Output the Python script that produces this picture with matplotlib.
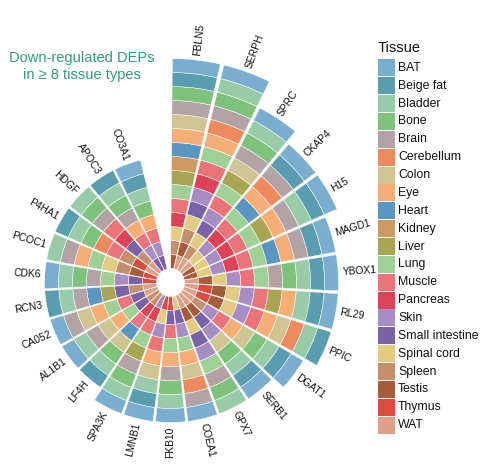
import numpy as np
import matplotlib
matplotlib.use("Agg")
import matplotlib.pyplot as plt
from matplotlib.patches import Rectangle

plt.rcParams['font.family'] = ['Liberation Sans', 'DejaVu Sans']

tissues = ["BAT", "Beige fat", "Bladder", "Bone", "Brain", "Cerebellum", "Colon",
           "Eye", "Heart", "Kidney", "Liver", "Lung", "Muscle", "Pancreas", "Skin",
           "Small intestine", "Spinal cord", "Spleen", "Testis", "Thymus", "WAT"]
tissue_colors = ["#7aaed1", "#5a9cb0", "#98cba7", "#7ec27c", "#b3a3a6", "#ee8a5e",
                 "#d0c592", "#f6ad76", "#5a96bf", "#cc9a62", "#a9a552", "#9fd197",
                 "#ea7479", "#dd4356", "#a78dc4", "#7a62a6", "#e4cb82", "#c58f6e",
                 "#a65c3a", "#dc4b40", "#dea088"]

genes = ["FBLN5", "SERPH", "SPRC", "CKAP4", "H15", "MAGD1", "YBOX1", "RL29", "PPIC",
         "DGAT1", "SERB1", "GPX7", "COEA1", "FKB10", "LMNB1", "SPA3K", "LF4H", "AL1B1",
         "CA052", "RCN3", "CDK6", "PCOC1", "P4HA1", "HDGF", "APOC3", "CO3A1"]

gene_tissues = [
    ["BAT", "Beige fat", "Bone", "Brain", "Colon", "Eye", "Heart", "Kidney", "Liver", "Lung", "Muscle", "Pancreas", "Spinal cord", "Spleen", "Testis"],
    ["BAT", "Bladder", "Bone", "Brain", "Cerebellum", "Eye", "Lung", "Muscle", "Pancreas", "Skin", "Small intestine", "Spinal cord", "Spleen", "Testis", "WAT"],
    ["BAT", "Bladder", "Bone", "Brain", "Colon", "Liver", "Lung", "Muscle", "Skin", "Small intestine", "Spinal cord", "Spleen", "WAT"],
    ["BAT", "Beige fat", "Brain", "Cerebellum", "Eye", "Heart", "Lung", "Muscle", "Pancreas", "Skin", "Spinal cord", "WAT"],
    ["BAT", "Beige fat", "Bladder", "Brain", "Eye", "Liver", "Lung", "Muscle", "Pancreas", "Skin", "Spinal cord", "Testis"],
    ["BAT", "Beige fat", "Brain", "Eye", "Heart", "Lung", "Muscle", "Pancreas", "Skin", "Spinal cord", "Testis"],
    ["BAT", "Beige fat", "Bladder", "Bone", "Brain", "Lung", "Muscle", "Skin", "Spinal cord", "Testis", "WAT"],
    ["BAT", "Beige fat", "Bladder", "Eye", "Liver", "Muscle", "Skin", "Spinal cord", "Testis", "Thymus", "WAT"],
    ["Beige fat", "Bladder", "Cerebellum", "Colon", "Eye", "Muscle", "Skin", "Spinal cord", "Testis", "Thymus", "WAT"],
    ["BAT", "Beige fat", "Bladder", "Bone", "Colon", "Eye", "Muscle", "Skin", "Spleen", "WAT"],
    ["BAT", "Beige fat", "Bladder", "Bone", "Colon", "Skin", "Small intestine", "Testis", "WAT"],
    ["Bladder", "Bone", "Brain", "Lung", "Skin", "Small intestine", "Spinal cord", "Testis", "WAT"],
    ["BAT", "Brain", "Cerebellum", "Colon", "Eye", "Lung", "Skin", "Small intestine", "Spinal cord"],
    ["BAT", "Bladder", "Bone", "Brain", "Eye", "Lung", "Muscle", "Small intestine", "Thymus"],
    ["BAT", "Beige fat", "Bladder", "Colon", "Eye", "Muscle", "Skin", "Spinal cord", "Thymus"],
    ["BAT", "Bladder", "Bone", "Brain", "Liver", "Lung", "Muscle", "Pancreas", "Skin"],
    ["Beige fat", "Bladder", "Bone", "Colon", "Heart", "Muscle", "Pancreas", "Spleen"],
    ["BAT", "Bladder", "Brain", "Colon", "Eye", "Lung", "Small intestine", "Spleen"],
    ["BAT", "Brain", "Colon", "Eye", "Lung", "Muscle", "Small intestine", "WAT"],
    ["Beige fat", "Bladder", "Brain", "Heart", "Liver", "Small intestine", "Spleen", "WAT"],
    ["BAT", "Bladder", "Bone", "Brain", "Lung", "Skin", "Small intestine", "Thymus"],
    ["Bladder", "Brain", "Eye", "Lung", "Spinal cord", "Spleen", "Testis", "Thymus"],
    ["Beige fat", "Bladder", "Bone", "Cerebellum", "Muscle", "Spleen", "Thymus", "WAT"],
    ["Bladder", "Bone", "Brain", "Muscle", "Pancreas", "Small intestine", "Spleen", "WAT"],
    ["Beige fat", "Bladder", "Bone", "Brain", "Eye", "Muscle", "Skin", "Small intestine"],
    ["BAT", "Beige fat", "Bladder", "Bone", "Eye", "Muscle", "Skin", "Small intestine"],
]

title_lines = ["Down-regulated DEPs", "in \u2265 8 tissue types"]
legend_title = "Tissue"

# ---- layout -------------------------------------------------------------
W, H = 495, 468
fig = plt.figure(figsize=(W / 100, H / 100), dpi=100)
cx, cy = 170.5, 282.5          # centre of the circle in pixels (from top-left)
unit = 14.0                     # pixels per tissue segment
rmax = 16.0
R = rmax * unit
ax = fig.add_axes([(cx - R) / W, (H - cy - R) / H, 2 * R / W, 2 * R / H],
                  projection='polar')
ax.set_theta_zero_location('N')
ax.set_theta_direction(-1)
ax.set_ylim(0, rmax)
ax.set_axis_off()

n_slots = len(genes) + 1
slot = 2 * np.pi / n_slots
color_of = dict(zip(tissues, tissue_colors))

for i, (g, ts) in enumerate(zip(genes, gene_tissues)):
    theta = (i + 0.5) * slot
    ordered = sorted(ts, key=tissues.index)[::-1]   # innermost first
    for j, t in enumerate(ordered):
        ax.bar(theta, 1, bottom=1 + j, width=slot * 0.93, color=color_of[t],
               edgecolor='white', linewidth=0.35, align='center')
    top = 1 + len(ts)
    deg = np.degrees(theta)
    if deg < 180:
        rot, ha = 90 - deg, 'left'
    else:
        rot, ha = 270 - deg, 'right'
    ax.text(theta, top + 0.3, g, rotation=rot, rotation_mode='anchor',
            ha=ha, va='center', fontsize=7.4, color='#111111', clip_on=False)

# ---- title --------------------------------------------------------------
def fx(x):
    return x / W

def fy(y):
    return 1 - y / H

fig.text(fx(81.5), fy(58), title_lines[0], ha='center', va='center',
         fontsize=10.5, color='#2f9c7f')
fig.text(fx(81.5), fy(75.5), title_lines[1], ha='center', va='center',
         fontsize=10.5, color='#2f9c7f')

# ---- legend -------------------------------------------------------------
fig.text(fx(377.5), fy(47.5), legend_title, ha='left', va='center',
         fontsize=10.5, color='#111111')
y0, pitch, kw, kh = 59.3, 17.87, 16.8, 17.0
for k, (t, c) in enumerate(zip(tissues, tissue_colors)):
    ytop = y0 + k * pitch
    fig.add_artist(Rectangle((fx(378.3), fy(ytop + kh)), kw / W, kh / H,
                             transform=fig.transFigure, facecolor=c,
                             edgecolor='none'))
    fig.text(fx(398), fy(ytop + kh / 2), t, ha='left', va='center',
             fontsize=8.8, color='#111111')

fig.savefig('out.png', dpi=100, facecolor='white')
